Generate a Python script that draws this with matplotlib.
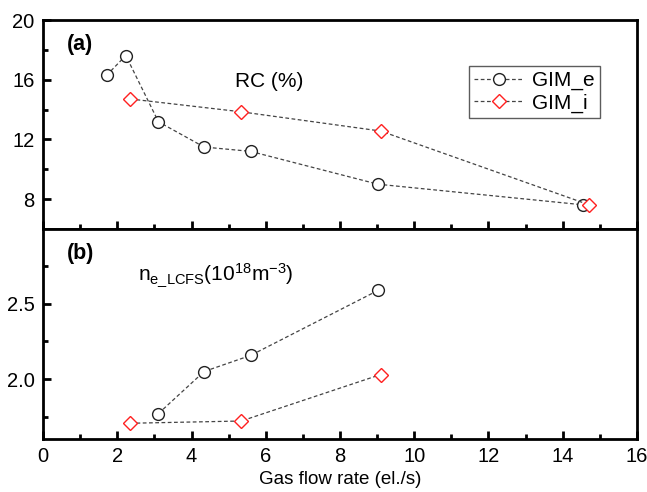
import matplotlib
matplotlib.use("Agg")
import matplotlib.pyplot as plt
from matplotlib.ticker import MultipleLocator, FixedLocator

plt.rcParams['font.family'] = ['Liberation Sans', 'DejaVu Sans']
plt.rcParams['mathtext.fontset'] = 'custom'
plt.rcParams['mathtext.rm'] = 'Liberation Sans'

# Panel (a): RC (%)
rc_e_x = [1.71, 2.23, 3.11, 4.34, 5.59, 9.02, 14.54]
rc_e_y = [16.29, 17.62, 13.18, 11.49, 11.20, 9.0, 7.62]
rc_i_x = [2.35, 5.34, 9.10, 14.71]
rc_i_y = [14.71, 13.85, 12.56, 7.62]

# Panel (b): n_e_LCFS (1e18 m^-3)
ne_e_x = [3.11, 4.34, 5.59, 9.02]
ne_e_y = [1.77, 2.05, 2.157, 2.59]
ne_i_x = [2.35, 5.34, 9.10]
ne_i_y = [1.705, 1.72, 2.03]

fig = plt.figure(figsize=(6.47, 4.92), dpi=100)
L, R = 0.0665, 0.9845
ax1 = fig.add_axes([L, 0.5346, R - L, 0.9593 - 0.5346])
ax2 = fig.add_axes([L, 0.1077, R - L, 0.5346 - 0.1077], sharex=ax1)

line_kw = dict(ls=(0, (3, 2)), lw=0.9, color='#444444', ms=8.5, mew=1.0, mfc='white')
dia_kw = {**line_kw, 'ms': 7.5}
ax1.plot(rc_e_x, rc_e_y, marker='o', mec='#222222', label='GIM_e', **line_kw)
ax1.plot(rc_i_x, rc_i_y, marker='D', mec='#ff2020', label='GIM_i', **dia_kw)
ax2.plot(ne_e_x, ne_e_y, marker='o', mec='#222222', **line_kw)
ax2.plot(ne_i_x, ne_i_y, marker='D', mec='#ff2020', **dia_kw)

ax1.set_xlim(0, 16)
ax1.set_ylim(6, 20)
ax2.set_ylim(1.6, 3.0)

ax1.yaxis.set_major_locator(FixedLocator([8, 12, 16, 20]))
ax1.yaxis.set_minor_locator(FixedLocator([10, 14, 18]))
ax2.yaxis.set_major_locator(FixedLocator([2.0, 2.5]))
ax2.yaxis.set_minor_locator(FixedLocator([1.75, 2.25, 2.75]))
ax2.yaxis.set_major_formatter(plt.FuncFormatter(lambda v, p: f"{v:.1f}"))
ax2.xaxis.set_major_locator(MultipleLocator(2))
ax2.xaxis.set_minor_locator(MultipleLocator(1))

for ax in (ax1, ax2):
    for s in ax.spines.values():
        s.set_linewidth(2.0)
    ax.tick_params(which='both', direction='in', top=False, right=False,
                   width=2.0, labelsize=14.5, colors='black', pad=6)
    ax.tick_params(which='major', length=6)
    ax.tick_params(which='minor', length=3.5)
ax1.tick_params(axis='x', labelbottom=False)

ax2.set_xlabel('Gas flow rate (el./s)', fontsize=13.5, labelpad=3)

ax1.text(0.04, 0.855, '(a)', transform=ax1.transAxes, fontsize=15.5, fontweight='bold')
ax1.text(6.1, 15.87, 'RC (%)', fontsize=15, ha='center', va='center')
ax2.text(0.04, 0.855, '(b)', transform=ax2.transAxes, fontsize=15.5, fontweight='bold')
ax2.text(2.55, 2.69, r'$\mathregular{n_{e\_LCFS}(10^{18}m^{-3})}$', fontsize=15,
         ha='left', va='center')

leg = ax1.legend(loc='upper right', bbox_to_anchor=(0.937, 0.78), fontsize=15,
                 frameon=True, fancybox=False, edgecolor='#333333',
                 handlelength=2.4, handletextpad=0.35, borderpad=0.25,
                 labelspacing=0.15, borderaxespad=0)
leg.get_frame().set_linewidth(1.0)

fig.savefig('out.png', dpi=100)
